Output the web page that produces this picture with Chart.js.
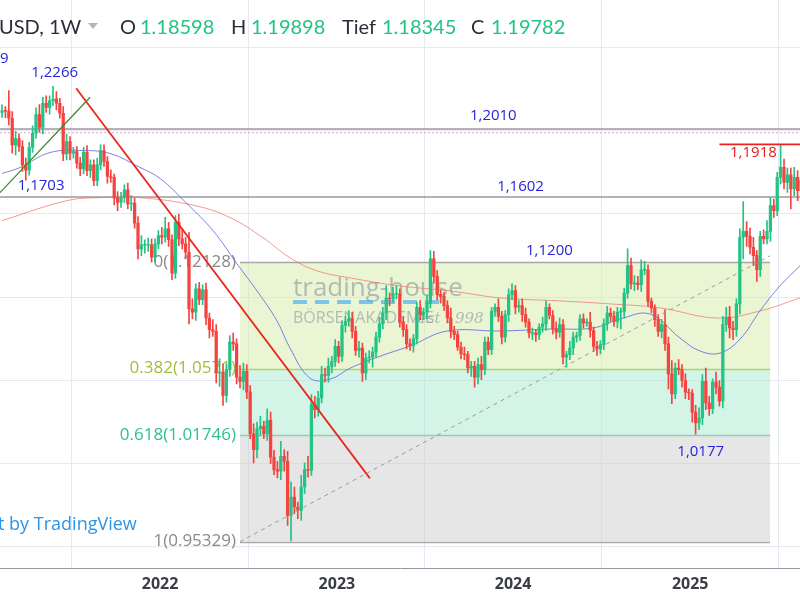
<!DOCTYPE html>
<html><head><meta charset="utf-8">
<script src="https://cdn.jsdelivr.net/npm/chart.js@4.4.1/dist/chart.umd.min.js"></script>
<style>html,body{margin:0;background:#fff}#wrap{width:800px;height:600px}</style>
</head><body><div id="wrap"><canvas id="c"></canvas></div>
<script>
// weekly candles, week 0 = early Feb 2021
const firstOpen = 1.2110;
const closes = [
1.2120,1.2118,1.2075,1.1915,1.1952,1.1905,1.1795,1.1763,1.1900,1.1985,
1.2097,1.2020,1.2165,1.2140,1.2180,1.2190,1.2165,1.2105,1.1860,1.1935,
1.1865,1.1875,1.1805,1.1770,1.1870,1.1760,1.1795,1.1700,1.1795,1.1880,
1.1815,1.1725,1.1720,1.1595,1.1570,1.1600,1.1645,1.1560,1.1565,1.1445,
1.1290,1.1315,1.1315,1.1315,1.1240,1.1320,1.1370,1.1360,1.1410,1.1345,
1.1145,1.1450,1.1350,1.1320,1.1270,1.0930,1.0910,1.1050,1.0985,1.1045,
1.0875,1.0805,1.0795,1.0545,1.0550,1.0410,1.0565,1.0730,1.0720,1.0520,
1.0495,1.0555,1.0430,1.0180,1.0085,1.0210,1.0225,1.0180,1.0260,1.0040,
0.9965,0.9955,1.0045,1.0015,0.9690,0.9800,0.9740,0.9720,0.9860,0.9965,
0.9960,1.0355,1.0325,1.0395,1.0535,1.0530,1.0585,1.0615,1.0705,1.0645,
1.0830,1.0855,1.0870,1.0795,1.0680,1.0695,1.0545,1.0635,1.0640,1.0670,
1.0760,1.0840,1.0905,1.0995,1.0990,1.1020,1.1020,1.0850,1.0805,1.0720,
1.0710,1.0750,1.0940,1.0895,1.0910,1.0965,1.1230,1.1125,1.1015,1.1005,
1.0950,1.0875,1.0795,1.0775,1.0700,1.0660,1.0655,1.0575,1.0585,1.0520,
1.0595,1.0565,1.0730,1.0685,1.0915,1.0940,1.0885,1.0760,1.0895,1.1015,
1.1040,1.0940,1.0950,1.0895,1.0850,1.0785,1.0785,1.0775,1.0820,1.0840,
1.0940,1.0890,1.0810,1.0790,1.0835,1.0640,1.0655,1.0695,1.0760,1.0770,
1.0870,1.0845,1.0850,1.0800,1.0705,1.0690,1.0715,1.0840,1.0905,1.0885,
1.0855,1.0910,1.0915,1.1025,1.1190,1.1080,1.1085,1.1075,1.1165,1.1165,
1.0975,1.0935,1.0865,1.0795,1.0835,1.0720,1.0540,1.0420,1.0575,1.0565,
1.0500,1.0430,1.0425,1.0310,1.0245,1.0275,1.0495,1.0365,1.0330,1.0490,
1.0460,1.0375,1.0835,1.0880,1.0815,1.0805,1.0960,1.1360,1.1395,1.1365,
1.1300,1.1250,1.1165,1.1365,1.1350,1.1395,1.1550,1.1520,1.1720,1.1780,
1.1690,1.1735,1.1650,1.1720,1.1640,1.1700];
const wickUp = [
35,25,123,40,45,30,35,40,30,45, 40,60,35,45,30,76,45,30,40,45,
30,25,30,35,30,40,30,30,40,35, 35,30,40,20,40,30,30,40,45,30,
40,55,30,40,35,30,30,50,70,40, 30,40,50,60,40,120,60,30,40,30,
40,30,60,40,80,50,30,40,55,30, 70,50,40,40,60,40,60,30,70,50,
40,50,90,40,60,90,60,30,70,40, 80,60,50,40,50,40,50,30,40,30,
30,30,50,40,30,40,30,30,40,30, 30,40,35,75,30,40,50,30,30,30,
30,25,30,40,25,45,50,45,35,30, 25,30,60,30,20,30,40,20,30,30,
40,50,30,30,25,20,50,30,25,35, 40,30,30,40,40,20,30,20,20,40,
40,20,30,40,40,30,20,40,30,20, 25,30,20,60,20,30,25,30,40,30,
30,30,20,30,100,45,45,40,60,50, 30,20,20,30,30,90,40,80,30,50,
30,40,20,20,40,60,40,80,40,20, 60,40,50,60,65,40,30,50,180,60,
50,60,30,30,40,65,50,40,30,138, 50,40,40,60,40,50];
const wickDn = [
30,40,40,50,60,30,40,60,30,30, 30,30,40,30,40,30,40,30,40,35,
40,30,30,40,30,30,40,30,30,30, 30,40,30,40,50,30,30,30,40,30,
60,40,50,40,30,30,30,40,30,40, 40,30,40,30,40,90,40,50,30,30,
40,50,30,60,80,60,40,40,40,40, 40,50,40,30,80,50,40,30,40,40,
30,40,50,60,60,154,40,50,60,40, 40,30,50,40,30,40,40,40,30,40,
30,40,30,40,30,40,50,40,30,60, 30,30,30,40,40,20,30,30,40,30,
30,40,30,30,30,40,30,40,30,40, 30,30,40,30,20,30,30,30,50,60,
40,60,30,30,30,30,30,40,30,40, 30,40,30,40,30,30,40,40,30,30,
40,20,30,40,30,40,60,30,40,30, 30,30,20,40,30,40,30,30,40,30,
30,40,100,40,30,30,40,30,40,30, 30,30,40,30,40,40,90,60,30,30,
40,40,40,60,68,40,40,40,40,30, 40,30,40,40,60,60,40,60,130,60,
40,60,70,40,30,30,60,40,30,40, 40,60,120,40,60,40];
// moving averages (week index, price)
const blueMaWeeks = [0,5.3,14.1,23.8,31.8,40.6,46.5,54.4,62.1,69.1,75,80.9,84.7,90.6,96.5,102.4,111.2,120,130.9,146.5,161.2,173.8,181.8,190.6,199.4,205.3,211.2,217.1,222.9,228.8,234.7];
const blueMa = [1.1743,1.1779,1.1869,1.1881,1.1863,1.1779,1.1713,1.1562,1.1399,1.1201,1.1038,1.0857,1.0695,1.0514,1.0508,1.0574,1.0646,1.0707,1.0797,1.0797,1.0809,1.0815,1.0869,1.0899,1.0755,1.0677,1.0665,1.0749,1.0917,1.1068,1.1189];
const redMaWeeks = [0,19.1,28.8,40.6,56.8,67.1,76.8,84.7,92.6,102.4,117,131.8,146.5,164.1,178.8,193.5,210.3,222.9,234.7];
const redMa = [1.1460,1.1580,1.1598,1.1598,1.1550,1.1478,1.1357,1.1237,1.1159,1.1116,1.1068,1.1038,1.0996,1.0978,1.0960,1.0936,1.0875,1.0917,1.0996];
const yearTicks = [46.5,98.5,150.3,202.4];
const yearLabels = ['2022','2023','2024','2025'];
const fibLevels = [1.12128,1.0571,1.01746,0.95329];
const fibLabels = ['0(1.12128)','0.382(1.0571)','0.618(1.01746)','1(0.95329)'];
const fibStart = 70, fibEnd = 225.9;

const UP='#22c384', DN='#f5443f';
const bodies=[], wicks=[], colors=[];
closes.forEach((c,i)=>{
  const o = i===0 ? firstOpen : closes[i-1];
  const hi = Math.max(o,c)+wickUp[i]/10000, lo = Math.min(o,c)-wickDn[i]/10000;
  let b=[o,c]; if(Math.abs(o-c)<0.0004) b=[o-0.0002,o+0.0002];
  bodies.push({x:i,y:b}); wicks.push({x:i,y:[lo,hi]}); colors.push(c>=o?UP:DN);
});

const drawings = {
  id:'drawings',
  beforeDatasetsDraw(ch){
    const {ctx,scales:{x,y}} = ch;
    const x0=x.getPixelForValue(fibStart), x1=x.getPixelForValue(fibEnd);
    const fills=['rgba(214,236,170,0.5)','rgba(170,234,210,0.5)','rgba(205,205,205,0.5)'];
    const lines=['#a8a8a8','#b5d65a','#7fd8b0','#a8a8a8'];
    ctx.save();
    for(let k=0;k<3;k++){const a=y.getPixelForValue(fibLevels[k]),b=y.getPixelForValue(fibLevels[k+1]);ctx.fillStyle=fills[k];ctx.fillRect(x0,a,x1-x0,b-a);}
    fibLevels.forEach((v,k)=>{const p=Math.round(y.getPixelForValue(v))+0.5;ctx.strokeStyle=lines[k];ctx.lineWidth=1.5;ctx.beginPath();ctx.moveTo(x0,p);ctx.lineTo(x1,p);ctx.stroke();});
    ctx.font='17px "Open Sans", sans-serif';ctx.textAlign='right';ctx.textBaseline='middle';
    const tc=['#8a8a8a','#9fbf3a','#2fc08e','#8a8a8a'];
    fibLevels.forEach((v,k)=>{ctx.fillStyle=tc[k];ctx.fillText(fibLabels[k],x0-4,y.getPixelForValue(v));});
    // horizontal levels
    [[1.2010,'#9a9a9a'],[1.1602,'#9a9a9a']].forEach(([v,c])=>{const p=y.getPixelForValue(v);ctx.strokeStyle=c;ctx.lineWidth=1.5;ctx.beginPath();ctx.moveTo(0,p);ctx.lineTo(800,p);ctx.stroke();});
    ctx.setLineDash([2,2]);ctx.strokeStyle='#e6a0c0';ctx.lineWidth=1;const pp=y.getPixelForValue(1.1988);ctx.beginPath();ctx.moveTo(0,pp);ctx.lineTo(800,pp);ctx.stroke();
    // watermark
    ctx.setLineDash([]);ctx.textAlign='left';ctx.textBaseline='alphabetic';
    ctx.fillStyle='rgba(130,140,150,0.55)';ctx.font='26px "Open Sans", sans-serif';ctx.fillText('trading-house',293,296);
    ctx.strokeStyle='rgba(80,175,240,0.7)';ctx.lineWidth=4;ctx.setLineDash([14,8]);ctx.beginPath();ctx.moveTo(293,302);ctx.lineTo(442,302);ctx.stroke();ctx.setLineDash([]);
    ctx.font='16px "Open Sans", sans-serif';ctx.fillText('BÖRSENAKADEMIE',293,323);
    ctx.font='italic 15px "DejaVu Serif", serif';ctx.fillText('est 1998',418,323);
    ctx.restore();
  },
  afterDatasetsDraw(ch){
    const {ctx,scales:{x,y}} = ch;
    const L=(a,b,c,d,col,w,dash)=>{ctx.strokeStyle=col;ctx.lineWidth=w;ctx.setLineDash(dash||[]);ctx.beginPath();ctx.moveTo(x.getPixelForValue(a),y.getPixelForValue(b));ctx.lineTo(x.getPixelForValue(c),y.getPixelForValue(d));ctx.stroke();};
    ctx.save();
    L(21.8,1.2255,108.2,0.9912,'#e8281e',1.8);
    L(-0.6,1.1628,25.9,1.2201,'#3c8a2e',1.3);
    L(70,0.9532,225.9,1.1249,'#9a9a9a',1,[4,4]);
    L(211,1.1918,236,1.1918,'#f01e1e',1.8);
    ctx.setLineDash([]);
    ctx.font='15px "Open Sans", sans-serif';ctx.textBaseline='middle';ctx.textAlign='center';
    const T=(s,i,v,c)=>{ctx.fillStyle=c;ctx.fillText(s,x.getPixelForValue(i),y.getPixelForValue(v));};
    T('1,2266',15.5,1.2350,'#2525d8');T('1,1703',11.5,1.1670,'#2525d8');
    T('1,2010',144.5,1.2090,'#2525d8');T('1,1602',152.5,1.1665,'#2525d8');
    T('1,1200',161,1.1280,'#2525d8');T('1,0177',205.5,1.0070,'#2525d8');
    T('1,1918',221,1.1870,'#e81a1a');
    ctx.textAlign='left';T('9',-0.6,1.2435,'#2525d8');
    ctx.restore();
  },
  afterDraw(ch){
    const ctx=ch.ctx;ctx.save();ctx.textBaseline='alphabetic';ctx.font='20px Lato, sans-serif';
    const parts=[['USD, 1W',-1,'#2a2e39'],['O',120,'#2a2e39'],['1.18598',140,UP],['H',231,'#2a2e39'],['1.19898',251,UP],['Tief',342,'#2a2e39'],['1.18345',382,UP],['C',471,'#2a2e39'],['1.19782',491,UP]];
    parts.forEach(([s,px,c])=>{ctx.fillStyle=c;ctx.fillText(s,px,34);});
    ctx.fillStyle='#b2b5be';ctx.beginPath();ctx.moveTo(88,23);ctx.lineTo(98,23);ctx.lineTo(93,29);ctx.fill();
    ctx.fillStyle='#2d95e6';ctx.font='18px "Open Sans", sans-serif';ctx.fillText('t by TradingView',-2,530);
    ctx.restore();
  }
};

new Chart(document.getElementById('c'),{
  type:'bar',
  data:{datasets:[
    {type:'line',data:blueMaWeeks.map((w,k)=>({x:w,y:blueMa[k]})),borderColor:'rgba(90,100,230,0.8)',borderWidth:1,pointRadius:0,tension:0.4,order:3},
    {type:'line',data:redMaWeeks.map((w,k)=>({x:w,y:redMa[k]})),borderColor:'rgba(240,120,110,0.75)',borderWidth:1,pointRadius:0,tension:0.4,order:3},
    {data:wicks,backgroundColor:colors,barThickness:1,grouped:false,order:2},
    {data:bodies,backgroundColor:colors,barThickness:2.6,grouped:false,order:1}
  ]},
  options:{
    responsive:true,maintainAspectRatio:false,animation:false,
    layout:{padding:{left:0,right:0,top:0,bottom:0}},
    plugins:{legend:{display:false},tooltip:{enabled:false}},
    scales:{
      x:{type:'linear',min:-0.59,max:234.7,offset:false,
        grid:{color:'#e6e8f3',drawTicks:false},border:{color:'#9598a1'},
        afterBuildTicks:(ax)=>{ax.ticks=yearTicks.map(v=>({value:v}));},
        ticks:{padding:6,color:'#3a3d46',font:{size:16,weight:'bold',family:'"Open Sans", sans-serif'},callback:(v)=>yearLabels[yearTicks.indexOf(v)]||''}},
      y:{position:'right',min:0.9369,max:1.2785,
        grid:{color:'#e6e8f3',drawTicks:false},border:{display:false},
        afterBuildTicks:(ax)=>{ax.ticks=[0.95,1.0,1.05,1.10,1.15,1.20,1.25].map(v=>({value:v}));},
        ticks:{display:false}}
    }
  },
  plugins:[drawings]
});
</script></body></html>
